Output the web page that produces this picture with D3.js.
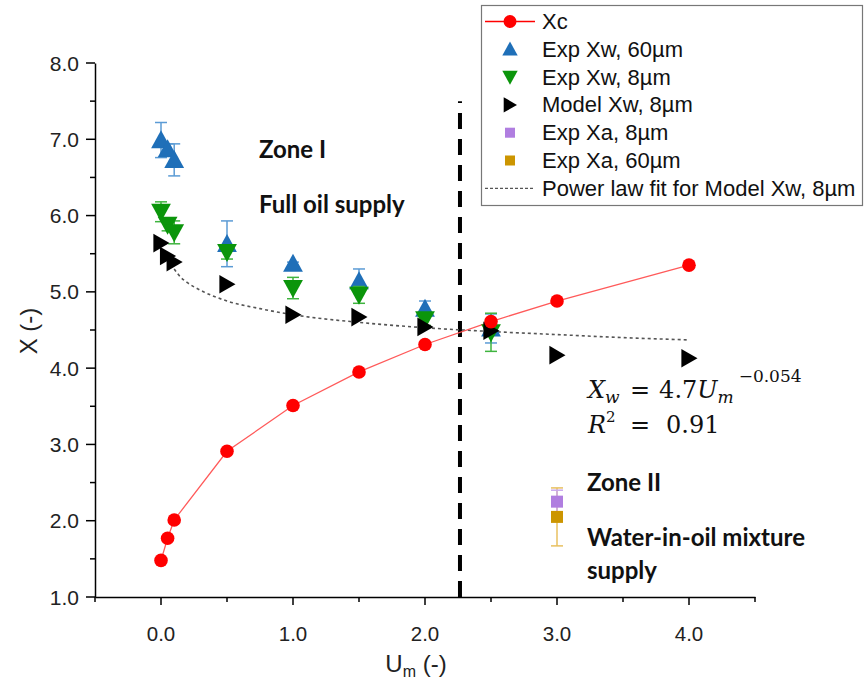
<!DOCTYPE html>
<html><head><meta charset="utf-8">
<script src="https://cdn.jsdelivr.net/npm/d3@7"></script>
<style>body{margin:0;background:#fff;} svg{display:block;}</style>
</head><body>
<svg id="chart" width="864" height="689"></svg>
<script>
// ---- data ----
const xcU = [0, 0.05, 0.1, 0.5, 1.0, 1.5, 2.0, 2.5, 3.0, 4.0];
const xcX = [1.48, 1.77, 2.01, 2.91, 3.51, 3.95, 4.31, 4.61, 4.88, 5.35];

const xw60U = [0, 0.05, 0.1, 0.5, 1.0, 1.5, 2.0, 2.5];
const xw60X = [6.99, 6.87, 6.73, 5.63, 5.37, 5.14, 4.78, 4.52];
const xw60E = [0.23, 0.07, 0.21, 0.30, 0.02, 0.16, 0.10, 0.19];

const xw8U = [0, 0.05, 0.1, 0.5, 1.0, 1.5, 2.0, 2.5];
const xw8X = [6.05, 5.88, 5.78, 5.52, 5.05, 4.96, 4.64, 4.47];
const xw8E = [0.13, 0.08, 0.15, 0.09, 0.14, 0.11, 0.08, 0.25];

const modelU = [0, 0.05, 0.1, 0.5, 1.0, 1.5, 2.0, 2.5, 3.0, 4.0];
const modelX = [5.64, 5.47, 5.39, 5.10, 4.70, 4.67, 4.54, 4.49, 4.17, 4.13];

const xa8U = [3.0];
const xa8X = [2.25];
const xa8E = [0.15];

const xa60U = [3.0];
const xa60X = [2.05];
const xa60E = [0.38];

const fitU = [0.1, 0.15, 0.2, 0.3, 0.5, 0.75, 1.0, 1.5, 2.0, 2.5, 3.0, 3.5, 4.0];
const fitX = [5.30, 5.19, 5.12, 5.02, 4.88, 4.78, 4.70, 4.60, 4.53, 4.48, 4.44, 4.40, 4.37];

const boundaryU = 2.265;
const boundaryX = [1.0, 7.5];

const xTicks = [0, 1, 2, 3, 4];
const yTicks = [1, 2, 3, 4, 5, 6, 7, 8];

const legendLabels = ["Xc", "Exp Xw, 60\u00b5m", "Exp Xw, 8\u00b5m", "Model Xw, 8\u00b5m",
  "Exp Xa, 8\u00b5m", "Exp Xa, 60\u00b5m", "Power law fit for Model Xw, 8\u00b5m"];

// ---- layout ----
const svg = d3.select("#chart");
const x = d3.scaleLinear().domain([-0.5, 4.5]).range([95, 755]);
const y = d3.scaleLinear().domain([1, 8]).range([597, 63]);

const C = {
  red: "#ff0000", redLine: "#ff5a5a",
  blue: "#1f6fb8", blueErr: "#5b9bd5",
  green: "#0b950b", greenErr: "#3fb43f",
  black: "#000", purple: "#b07ee0", purpleErr: "#c9a8ee",
  gold: "#cc9500", goldErr: "#e8c060"
};

// ---- axes ----
const axisColor = "#000";
const fontAx = "'Liberation Sans', Arial, sans-serif";

const xAxisG = svg.append("g").attr("transform", `translate(0,${y(1)})`)
  .call(d3.axisBottom(x).tickValues(d3.range(-0.5, 4.51, 0.5)).tickSize(0).tickFormat(""));
xAxisG.select(".domain").attr("stroke", axisColor).attr("stroke-width", 1.5);
svg.append("g").selectAll("line").data(d3.range(-0.5, 4.51, 0.5)).join("line")
  .attr("x1", d => x(d)).attr("x2", d => x(d))
  .attr("y1", y(1)).attr("y2", d => y(1) + (Number.isInteger(d) ? 8 : 5))
  .attr("stroke", axisColor).attr("stroke-width", 1.5);
svg.append("g").selectAll("text").data(xTicks).join("text")
  .attr("x", d => x(d)).attr("y", 641).attr("text-anchor", "middle")
  .attr("font-family", fontAx).attr("font-size", 20.5).attr("fill", "#222")
  .text(d => d.toFixed(1));

const yAxisG = svg.append("g").attr("transform", `translate(${x(-0.5)},0)`)
  .call(d3.axisLeft(y).tickValues(yTicks).tickSize(0).tickFormat(""));
yAxisG.select(".domain").attr("stroke", axisColor).attr("stroke-width", 1.5);
svg.append("g").selectAll("line").data(d3.range(1, 8.01, 0.5)).join("line")
  .attr("x1", x(-0.5)).attr("x2", d => x(-0.5) - (Number.isInteger(d) ? 9 : 5))
  .attr("y1", d => y(d)).attr("y2", d => y(d))
  .attr("stroke", axisColor).attr("stroke-width", 1.5);
svg.append("g").selectAll("text").data(yTicks).join("text")
  .attr("x", 79).attr("y", d => y(d) + 7.5).attr("text-anchor", "end")
  .attr("font-family", fontAx).attr("font-size", 21).attr("fill", "#222")
  .text(d => d.toFixed(1));

// axis titles
svg.append("text").attr("transform", "translate(37,331) rotate(-90)")
  .attr("text-anchor", "middle").attr("font-family", fontAx).attr("font-size", 24).attr("fill", "#222")
  .text("X (-)");
const xt = svg.append("text").attr("x", 416).attr("y", 672).attr("text-anchor", "middle")
  .attr("font-family", fontAx).attr("font-size", 24).attr("fill", "#222");
xt.append("tspan").text("U");
xt.append("tspan").attr("font-size", 16).attr("dy", 5).text("m");
xt.append("tspan").attr("dy", -5).text(" (-)");

// ---- boundary dashed line ----
svg.append("line")
  .attr("x1", x(boundaryU)).attr("x2", x(boundaryU))
  .attr("y1", y(boundaryX[0])).attr("y2", y(boundaryX[1]))
  .attr("stroke", "#000").attr("stroke-width", 4).attr("stroke-dasharray", "16,10");

// ---- power law fit ----
const fitData = fitU.map((u, i) => [u, fitX[i]]);
svg.append("path").datum(fitData)
  .attr("d", d3.line().x(d => x(d[0])).y(d => y(d[1])).curve(d3.curveMonotoneX))
  .attr("fill", "none").attr("stroke", "#555").attr("stroke-width", 1.6).attr("stroke-dasharray", "3,3");

// ---- error bars ----
function errorBars(U, X, E, color) {
  const g = svg.append("g").attr("stroke", color).attr("stroke-width", 1.5);
  U.forEach((u, i) => {
    const cx = x(u), y0 = y(X[i] - E[i]), y1 = y(X[i] + E[i]);
    g.append("line").attr("x1", cx).attr("x2", cx).attr("y1", y0).attr("y2", y1);
    g.append("line").attr("x1", cx - 6).attr("x2", cx + 6).attr("y1", y0).attr("y2", y0);
    g.append("line").attr("x1", cx - 6).attr("x2", cx + 6).attr("y1", y1).attr("y2", y1);
  });
}

// ---- symbols ----
const triUp = (s) => `M0,${-s*0.55}L${s*0.55},${s*0.45}L${-s*0.55},${s*0.45}Z`;
const triDown = (s) => `M0,${s*0.55}L${s*0.55},${-s*0.45}L${-s*0.55},${-s*0.45}Z`;
const triRight = (s) => `M${s*0.5},0L${-s*0.45},${-s*0.55}L${-s*0.45},${s*0.55}Z`;

function markers(U, X, pathStr, color) {
  svg.append("g").selectAll("path").data(U.map((u, i) => [u, X[i]])).join("path")
    .attr("transform", d => `translate(${x(d[0])},${y(d[1])})`)
    .attr("d", pathStr).attr("fill", color);
}

const xcData = xcU.map((u, i) => [u, xcX[i]]);
svg.append("path").datum(xcData)
  .attr("d", d3.line().x(d => x(d[0])).y(d => y(d[1])))
  .attr("fill", "none").attr("stroke", C.redLine).attr("stroke-width", 1.3);

errorBars(xw60U, xw60X, xw60E, C.blueErr);
markers(xw60U, xw60X, triUp(18), C.blue);
errorBars(xw8U, xw8X, xw8E, C.greenErr);
markers(xw8U, xw8X, triDown(18), C.green);
markers(modelU, modelX, triRight(17), C.black);
errorBars(xa60U, xa60X, xa60E, C.goldErr);
errorBars(xa8U, xa8X, xa8E, C.purpleErr);
svg.append("g").selectAll("rect").data(xa8U.map((u, i) => [u, xa8X[i]])).join("rect")
  .attr("x", d => x(d[0]) - 6).attr("y", d => y(d[1]) - 6).attr("width", 12).attr("height", 12)
  .attr("fill", C.purple);
svg.append("g").selectAll("rect").data(xa60U.map((u, i) => [u, xa60X[i]])).join("rect")
  .attr("x", d => x(d[0]) - 6).attr("y", d => y(d[1]) - 6).attr("width", 12).attr("height", 12)
  .attr("fill", C.gold);
svg.append("g").selectAll("circle").data(xcData).join("circle")
  .attr("cx", d => x(d[0])).attr("cy", d => y(d[1])).attr("r", 6.8).attr("fill", C.red);

// ---- annotations ----
const fontNote = "Lato, 'Open Sans', sans-serif";
function note(tx, ty, str) {
  svg.append("text").attr("x", tx).attr("y", ty).attr("font-family", fontNote)
    .attr("font-weight", "bold").attr("font-size", 24).attr("fill", "#111").text(str);
}
note(259, 158, "Zone I");
note(259, 213, "Full oil supply");
note(587, 491, "Zone II");
note(587, 546, "Water-in-oil mixture");
note(587, 579, "supply");

const fontEq = "'DejaVu Serif', 'Liberation Serif', serif";
const eq1 = svg.append("text").attr("x", 588).attr("y", 398).attr("font-family", fontEq)
  .attr("font-size", 24).attr("fill", "#111");
eq1.append("tspan").attr("font-style", "italic").text("X");
eq1.append("tspan").attr("font-style", "italic").attr("font-size", 17).attr("dy", 5).text("w");
eq1.append("tspan").attr("dy", -5).attr("x", 630).text("=");
eq1.append("tspan").attr("dx", 9).text("4.7");
eq1.append("tspan").attr("font-style", "italic").text("U");
eq1.append("tspan").attr("font-style", "italic").attr("font-size", 17).attr("dy", 5).text("m");
eq1.append("tspan").attr("font-size", 17).attr("dy", -21).attr("dx", 5).text("\u22120.054");
const eq2 = svg.append("text").attr("x", 588).attr("y", 433).attr("font-family", fontEq)
  .attr("font-size", 24).attr("fill", "#111");
eq2.append("tspan").attr("font-style", "italic").text("R");
eq2.append("tspan").attr("font-size", 15).attr("dy", -11).text("2");
eq2.append("tspan").attr("dy", 11).attr("x", 630).text("=");
eq2.append("tspan").attr("x", 666).text("0.91");

// ---- legend ----
const lg = svg.append("g");
lg.append("rect").attr("x", 481.5).attr("y", 5.5).attr("width", 381).attr("height", 200)
  .attr("fill", "#fff").attr("stroke", "#777").attr("stroke-width", 1.2);
const rowY = (i) => 21.5 + i * 27.8;
const symX = 510;
lg.append("line").attr("x1", 485).attr("x2", 535).attr("y1", rowY(0)).attr("y2", rowY(0))
  .attr("stroke", C.red).attr("stroke-width", 1.3);
lg.append("circle").attr("cx", symX).attr("cy", rowY(0)).attr("r", 6.5).attr("fill", C.red);
lg.append("path").attr("transform", `translate(${symX},${rowY(1)})`).attr("d", triUp(14)).attr("fill", C.blue);
lg.append("path").attr("transform", `translate(${symX},${rowY(2)})`).attr("d", triDown(14)).attr("fill", C.green);
lg.append("path").attr("transform", `translate(${symX},${rowY(3)})`).attr("d", triRight(14)).attr("fill", C.black);
lg.append("rect").attr("x", symX - 5).attr("y", rowY(4) - 5).attr("width", 10).attr("height", 10).attr("fill", C.purple);
lg.append("rect").attr("x", symX - 5).attr("y", rowY(5) - 5).attr("width", 10).attr("height", 10).attr("fill", C.gold);
lg.append("line").attr("x1", 485).attr("x2", 535).attr("y1", rowY(6)).attr("y2", rowY(6))
  .attr("stroke", "#555").attr("stroke-width", 1.3).attr("stroke-dasharray", "3,2");
lg.selectAll("text.lab").data(legendLabels).join("text").attr("class", "lab")
  .attr("x", 542).attr("y", (d, i) => rowY(i) + 7.5)
  .attr("font-family", fontAx).attr("font-size", 22).attr("fill", "#111").text(d => d);
</script>
</body></html>
